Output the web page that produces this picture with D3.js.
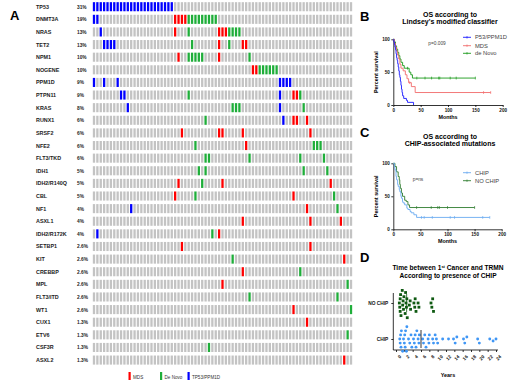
<!DOCTYPE html>
<html>
<head>
<meta charset="utf-8">
<script src="https://cdn.jsdelivr.net/npm/d3@7"></script>
<style>
body{margin:0;background:#fff;}
svg{display:block;font-family:"Liberation Sans",Arial,sans-serif;}
</style>
</head>
<body>
<svg id="fig" width="520" height="383"></svg>
<script>
// ---- panel A data (oncoprint) ----
const genes = ["TP53","DNMT3A","NRAS","TET2","NPM1","NOGENE","PPM1D","PTPN11","KRAS","RUNX1",
  "SRSF2","NFE2","FLT3/TKD","IDH1","IDH2/R140Q","CBL","NF1","ASXL1","IDH2/R172K","SETBP1",
  "KIT","CREBBP","MPL","FLT3/ITD","WT1","CUX1","ETV6","CSF3R","ASXL2"];
const pctLabels = ["31%","19%","13%","13%","10%","10%","9%","9%","8%","6%",
  "6%","6%","6%","5%","5%","5%","4%","4%","4%","2.6%",
  "2.6%","2.6%","2.6%","2.6%","2.6%","1.3%","1.3%","1.3%","1.3%"];
const nPatients = 77;
// patient (column) indices per gene, one list per row
const tp53Hits = [d3.range(0,24),[0,1],[2],[3,4,5,6],[],[],[0,3,7,55,56,57,58],[8,9,55],[10,55],[56],
  [],[],[],[],[],[],[11],[],[1],[],[],[],[],[],[],[],[],[],[]];
const mdsHits = [[],[24,25,26,27],[24,37,38,39],[37,44,45],[25,37],[47,48],[],[59,60],[],[59,60,63],
  [26,37,38,44,64],[45],[],[],[25,38,70],[24,59],[63],[44,64,73],[37],[26,64],
  [74],[44],[38],[],[59],[63],[],[],[74]];
const denovoHits = [[],[28,29,30,31,32,33,34,35,36],[28,40,41,42,43],[29,40],[28,29,30,31,32,46],[49,50,51,52,53,54],[],[28,61],[41,42,43,62],[33],
  [],[30,65,66,67],[33,34,46,61,68],[31,33,62,69],[32],[30,71],[72],[],[35],[],
  [41],[61],[75],[46,72],[76],[],[75],[34],[]];
const legendA = ["MDS","De Novo","TP53/PPM1D"];

// ---- panel B data (months, % survival) ----
const p53Steps = [[0,100],[1,96],[2,92],[3,88],[4,84],[5,78],[6,72],[7,68],[8,63],[9,58],[10,52],[11,46],
  [12,42],[13,36],[14,30],[15,24],[16,19],[17,14],[19,10],[24,7],[26,4],[37,0]];
const mdsSteps = [[0,100],[2,94],[4,88],[6,82],[8,76],[10,70],[12,62],[14,56],[18,52],[22,46],[25,40],
  [28,34],[33,28],[40,19],[178,19]];
const mdsCensor = [30,165,178];
const denovoSteps = [[0,100],[2,96],[4,90],[6,85],[8,80],[10,75],[12,70],[14,65],[17,60],[20,56],
  [29,50],[32,46],[35,41],[150,41]];
const denovoCensor = [26,43,58,70,83,85,104,115,150];

// ---- panel C data ----
const chipSteps = [[0,100],[2,94],[3,90],[5,80],[6,75],[8,68],[9,65],[11,60],[12,57],[14,50],[15,47],
  [17,42],[18,40],[21,37],[25,32],[27,30],[31,27],[33,25],[38,22],[43,18],[178,18]];
const chipCensor = [52,57,72,105,113,165,178];
const nochipSteps = [[0,100],[3,95],[6,87],[9,80],[11,75],[12,68],[13,62],[15,55],[17,50],[21,44],
  [24,42],[27,37],[30,33],[150,33]];
const nochipCensor = [43,70,82,85,100,150];

// ---- panel D data (years) ----
const chipYears = [0.9,1.0,1.1,1.2,1.3,1.6,1.8,2.0,2.1,2.2,2.3,2.5,2.6,3.0,3.3,3.6,3.8,
  4.2,4.4,4.6,4.8,5.0,5.3,5.5,5.6,6.4,6.6,6.9,7.2,7.7,7.9,8.0,8.8,9.0,9.4,9.7,10.0,11.2,12.6,
  13.8,14.2,14.6,16.2,16.5,17.0,19.6,20.0,22.5,23.3,24.0];
const nochipYears = [0.8,0.9,1.0,1.0,1.1,1.2,1.5,1.6,1.7,1.8,1.9,2.2,2.3,2.4,2.5,2.6,2.7,
  3.2,3.4,3.5,4.3,4.5,4.6,4.8,5.3,5.5,8.4,8.6,8.8,9.0];
const yearTicks = d3.range(0,25,2);

const red = "#ff0000", green = "#1fae3a", blue = "#0000ff";
const svg = d3.select("#fig");

// ================= PANEL A =================
const colX = d3.scaleBand().domain(d3.range(nPatients)).range([92.3,352.7]).paddingInner(0.32).paddingOuter(0.16);
const rowY = d3.scaleBand().domain(genes).range([0.4,0.4+29*12.62]).paddingInner(0.28).paddingOuter(0.14);

svg.append("text").attr("x",10).attr("y",20).attr("font-size",13).attr("font-weight","bold").text("A");

const rows = svg.append("g").selectAll("g").data(genes).join("g")
  .attr("transform", d => `translate(0,${rowY(d)})`);

rows.append("text").attr("x",36).attr("y",rowY.bandwidth()/2+2)
  .attr("font-size",5.4).attr("font-weight","bold").attr("fill","#222").text(d => d);
rows.append("text").attr("x",77).attr("y",rowY.bandwidth()/2+2)
  .attr("font-size",4.8).attr("font-weight","bold").attr("fill","#222").text((d,i) => pctLabels[i]);

rows.each(function(g,i){
  const el = d3.select(this);
  const colour = c => tp53Hits[i].includes(c) ? blue : mdsHits[i].includes(c) ? red : denovoHits[i].includes(c) ? green : "#c3c3c3";
  el.selectAll("rect").data(d3.range(nPatients)).join("rect")
    .attr("x", c => colX(c)).attr("y",0)
    .attr("width", colX.bandwidth()).attr("height", rowY.bandwidth())
    .attr("fill", colour);
});

const legA = svg.append("g").selectAll("g").data(legendA).join("g")
  .attr("transform",(d,i) => `translate(${[128.5,160,187.5][i]},372)`);
legA.append("rect").attr("width",2.2).attr("height",8).attr("fill",(d,i)=>[red,green,blue][i]);
legA.append("text").attr("x",4.5).attr("y",6.5).attr("font-size",4.6).attr("fill","#333").text(d=>d);

// ================= KM helpers =================
function stepAt(steps,t){
  let v = steps[0][1];
  steps.forEach(s => { if (s[0] <= t) v = s[1]; });
  return v;
}
function kmCurve(g,x,y,steps,censor,colour){
  g.append("path").datum(steps)
    .attr("d", d3.line().x(d=>x(d[0])).y(d=>y(d[1])).curve(d3.curveStepAfter))
    .attr("fill","none").attr("stroke",colour).attr("stroke-width",0.9);
  g.selectAll(null).data(censor).join("line")
    .attr("x1",t=>x(t)).attr("x2",t=>x(t))
    .attr("y1",t=>y(stepAt(steps,t))-1.4).attr("y2",t=>y(stepAt(steps,t))+1.4)
    .attr("stroke",colour).attr("stroke-width",0.7);
}
function styleAxis(a){
  a.selectAll("path,line").attr("stroke","#000").attr("stroke-width",0.8);
  a.selectAll("text").attr("font-size",4.6).attr("font-weight","bold").attr("fill","#111")
    .attr("font-family","Liberation Sans, Arial, sans-serif");
}
function kmPanel(letter,ly,titles,ty,x,y,curves,legend,pText,pPos){
  svg.append("text").attr("x",360).attr("y",ly).attr("font-size",13).attr("font-weight","bold").text(letter);
  svg.append("g").selectAll("text").data(titles).join("text")
    .attr("x",450).attr("y",(d,i)=>ty+i*7.6).attr("text-anchor","middle")
    .attr("font-size",7).attr("font-weight","bold").text(d=>d);
  const ax = svg.append("g").attr("transform",`translate(0,${y.range()[0]})`)
    .call(d3.axisBottom(x).tickValues([0,50,100,150,200]).tickSize(2).tickPadding(1.5).tickSizeOuter(0));
  styleAxis(ax);
  const ay = svg.append("g").attr("transform",`translate(${x.range()[0]},0)`)
    .call(d3.axisLeft(y).tickValues([0,50,100]).tickSize(2).tickPadding(1.5).tickSizeOuter(0));
  styleAxis(ay);
  svg.append("text").attr("x",d3.mean(x.range())).attr("y",y.range()[0]+13.5).attr("text-anchor","middle")
    .attr("font-size",5.4).attr("font-weight","bold").text("Months");
  svg.append("text").attr("transform",`translate(378,${d3.mean(y.range())}) rotate(-90)`)
    .attr("text-anchor","middle").attr("font-size",5.4).attr("font-weight","bold").text("Percent survival");
  const g = svg.append("g");
  curves.forEach(c => kmCurve(g,x,y,c.steps,c.censor,c.colour));
  const lg = svg.append("g").selectAll("g").data(legend).join("g")
    .attr("transform",d=>`translate(463,${d.y})`);
  lg.append("line").attr("x2",8).attr("stroke",d=>d.colour).attr("stroke-width",0.9);
  lg.append("line").attr("x1",4).attr("x2",4).attr("y1",-1.2).attr("y2",1.2).attr("stroke",d=>d.colour).attr("stroke-width",0.7);
  lg.append("text").attr("x",12).attr("y",2).attr("font-size",5.8).attr("fill","#444").text(d=>d.name);
  svg.append("text").attr("x",pPos[0]).attr("y",pPos[1]).attr("text-anchor","middle")
    .attr("font-size",4.8).attr("fill","#444").text(pText);
}

// ================= PANEL B =================
const xB = d3.scaleLinear().domain([0,200]).range([393.3,502.7]);
const yB = d3.scaleLinear().domain([0,100]).range([105,39.3]);
kmPanel("B",21,["OS according to","Lindsey's modified classifier"],16.5,xB,yB,[
  {steps:denovoSteps,censor:denovoCensor,colour:"#1a9a1a"},
  {steps:mdsSteps,censor:mdsCensor,colour:"#f26b6b"},
  {steps:p53Steps,censor:[],colour:"#1a1aff"}
],[
  {name:"P53/PPM1D",colour:"#1a1aff",y:37.3},
  {name:"MDS",colour:"#f26b6b",y:45.7},
  {name:"de Novo",colour:"#1a9a1a",y:53.3}
],"p=0.009",[437,45]);

// ================= PANEL C =================
const xC = d3.scaleLinear().domain([0,200]).range([393.3,501.7]);
const yC = d3.scaleLinear().domain([0,100]).range([229.3,163.3]);
kmPanel("C",137,["OS according to","CHIP-associated mutations"],138.5,xC,yC,[
  {steps:nochipSteps,censor:nochipCensor,colour:"#2f7d2f"},
  {steps:chipSteps,censor:chipCensor,colour:"#6aaaf0"}
],[
  {name:"CHIP",colour:"#6aaaf0",y:172.7},
  {name:"NO CHIP",colour:"#2f7d2f",y:180.7}
],"p=ns",[418,181]);

// ================= PANEL D =================
svg.append("text").attr("x",360).attr("y",262).attr("font-size",13).attr("font-weight","bold").text("D");
const tD = svg.append("text").attr("x",448).attr("y",270).attr("text-anchor","middle")
  .attr("font-size",6.6).attr("font-weight","bold");
tD.append("tspan").text("Time between  1");
tD.append("tspan").attr("dy",-2.2).attr("font-size",4).text("st");
tD.append("tspan").attr("dy",2.2).text(" Cancer and TRMN");
svg.append("text").attr("x",448).attr("y",277.5).attr("text-anchor","middle")
  .attr("font-size",6.6).attr("font-weight","bold").text("According to presence of CHIP");

const xD = d3.scaleLinear().domain([0,24]).range([396,496]);
const yD = d3.scalePoint().domain(["NO CHIP","CHIP"]).range([303,339]);

const axD = svg.append("g").attr("transform","translate(0,350)")
  .call(d3.axisBottom(xD).tickValues(yearTicks).tickSize(2).tickSizeOuter(0));
styleAxis(axD);
axD.select(".domain").attr("d","M393.3,0H498");
axD.selectAll("text").attr("text-anchor","end").attr("dy",0)
  .attr("transform","translate(1.5,3.5) rotate(-45)");
const ayD = svg.append("g").attr("transform","translate(393.3,0)")
  .call(d3.axisLeft(yD).tickSize(2).tickSizeOuter(0));
styleAxis(ayD);
ayD.select(".domain").attr("d","M0,293H0V350");
ayD.selectAll("text").attr("font-size",4.8);
svg.append("text").attr("x",448).attr("y",377).attr("text-anchor","middle")
  .attr("font-size",5.4).attr("font-weight","bold").text("Years");

function swarm(values,cy,r){
  const placed = [];
  values.slice().sort(d3.ascending).forEach(v => {
    const px = xD(v);
    for (let k=0;k<40;k++){
      const dy = (k%2 ? 1 : -1) * Math.ceil(k/2) * r * 1.2;
      if (placed.every(p => (p.x-px)**2 + (p.y-cy-dy)**2 >= (2*r)**2)) { placed.push({x:px,y:cy+dy,v}); break; }
    }
  });
  return placed;
}
const nochipPts = swarm(nochipYears,yD("NO CHIP"),1.75);
const chipPts = swarm(chipYears,yD("CHIP"),1.7);
svg.append("g").selectAll("rect").data(nochipPts).join("rect")
  .attr("x",d=>d.x-1.4).attr("y",d=>d.y-1.4).attr("width",2.8).attr("height",2.8)
  .attr("fill","#0f5a12");
svg.append("g").selectAll("circle").data(chipPts).join("circle")
  .attr("cx",d=>d.x).attr("cy",d=>d.y).attr("r",1.45).attr("fill","#3f96f5");
[["NO CHIP",nochipYears,"#0f5a12"],["CHIP",chipYears,"#000"]].forEach(([k,vals,c]) => {
  const m = xD(d3.median(vals));
  svg.append("line").attr("x1",m).attr("x2",m).attr("y1",yD(k)-9).attr("y2",yD(k)+9)
    .attr("stroke",c).attr("stroke-width",0.8);
});
</script>
</body>
</html>
